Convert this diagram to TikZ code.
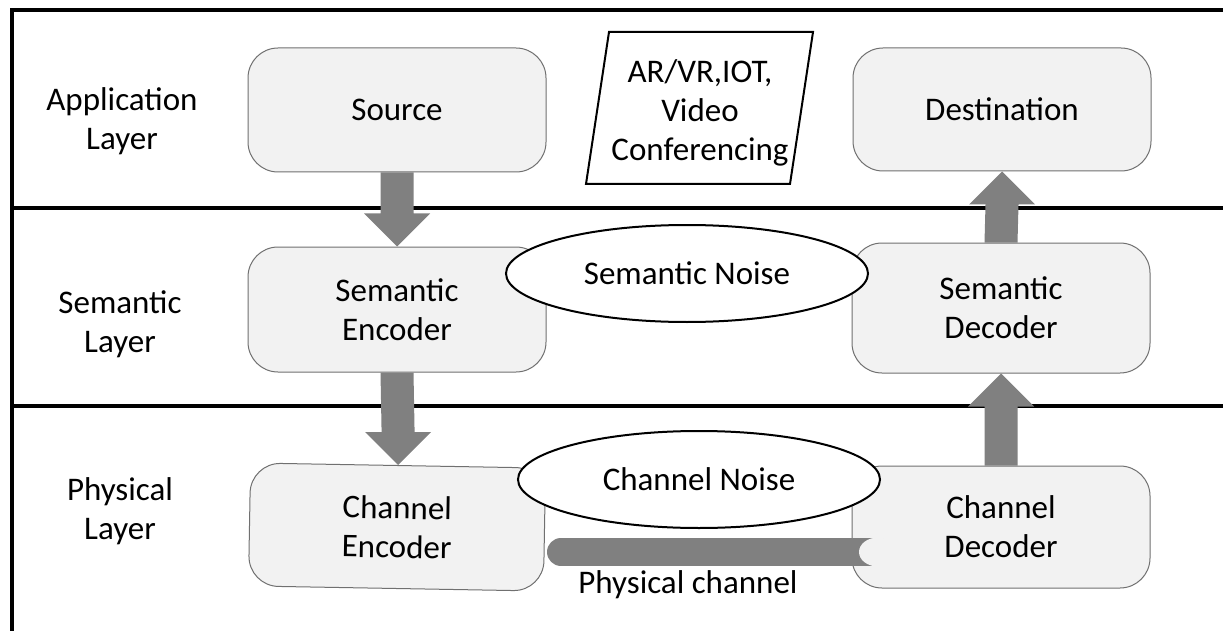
\documentclass[tikz,border=0pt]{standalone}
\usepackage{fontspec}
\setmainfont{Carlito}
\usetikzlibrary{calc,shapes.geometric}
\definecolor{boxfill}{HTML}{F2F2F2}
\definecolor{boxline}{HTML}{707070}
\definecolor{arrowgray}{HTML}{808080}
\newcommand\blockdown[2]{%
  \fill[blockarrow] ($(#1)+(-16.5,0)$) -- ($(#2)+(-16.5,-33)$) -- ($(#2)+(-33,-33)$) -- (#2)
    -- ($(#2)+(33,-33)$) -- ($(#2)+(16.5,-33)$) -- ($(#1)+(16.5,0)$) -- cycle;}
\newcommand\blockup[2]{%
  \fill[blockarrow] ($(#1)+(-16.5,0)$) -- ($(#2)+(-16.5,33)$) -- ($(#2)+(-33,33)$) -- (#2)
    -- ($(#2)+(33,33)$) -- ($(#2)+(16.5,33)$) -- ($(#1)+(16.5,0)$) -- cycle;}
\begin{document}
\begin{tikzpicture}[x=1pt,y=-1pt,
  every node/.style={font=\fontsize{33}{39}\selectfont, align=center},
  layerbox/.style={rectangle, rounded corners=30pt, draw=boxline, line width=1pt,
    fill=boxfill, minimum width=298pt, minimum height=124pt, inner sep=0pt},
  noise/.style={ellipse, draw=black, line width=2pt, fill=white,
    minimum width=362pt, minimum height=97pt, inner sep=0pt},
  frameline/.style={line width=4pt, draw=black},
  blockarrow/.style={fill=arrowgray},
  pipe/.style={draw=arrowgray, line width=28pt, line cap=round},
  lbl/.style={inner sep=0pt},
  appshape/.style={draw=black, line width=2pt, fill=white}]
\useasboundingbox (0,0) rectangle (1223,631);
\fill[white] (0,0) rectangle (1223,631);
% frame
\draw[frameline] (12,640) -- (12,10) -- (1230,10);
\draw[frameline] (12,208) -- (1230,208);
\draw[frameline] (12,406) -- (1230,406);
% layer labels
\node[lbl] (appl) at (122,121) {Application\\Layer};
\node[lbl] (seml) at (120,324) {Semantic\\Layer};
\node[lbl] (phyl) at (120,511) {Physical\\Layer};
% boxes
\node[layerbox] (src) at (397,110) {Source};
\node[layerbox, minimum height=125pt] (senc) at (397,309.5) {Semantic\\Encoder};
\node[layerbox, rotate=-1, minimum width=295pt, minimum height=123pt] (cenc) at (397,527) {Channel\\Encoder};
\node[layerbox, minimum height=123pt] (dest) at (1002,109.5) {Destination};
\node[layerbox, minimum height=130pt] (sdec) at (1001,308) {Semantic\\Decoder};
\node[layerbox, minimum height=122pt] (cdec) at (1001,527) {Channel\\Decoder};
% application parallelogram
\draw[appshape] (609,32) -- (813,32) -- (790,184) -- (586,184) -- cycle;
\node[lbl] (apps) at (700,113) {AR/VR,IOT,\\Video\\Conferencing};
% noise ellipses
\node[noise] (snoise) at (687,273.5) {Semantic Noise};
\node[noise] (cnoise) at (699,479.5) {Channel Noise};
% block arrows
\blockdown{src.south}{senc.north}
\blockdown{senc.south}{cenc.north}
\blockup{sdec.north}{dest.south}
\blockup{cdec.north}{sdec.south}
% physical channel
\coordinate (pipeL) at (561,552);
\coordinate (pipeR) at (878,552);
\draw[pipe] (pipeL) -- (pipeR);
\fill[boxfill] (pipeR) ellipse [x radius=19pt, y radius=14.5pt];
\node[lbl] (pchan) at (688,585) {Physical channel};
\end{tikzpicture}
\end{document}
